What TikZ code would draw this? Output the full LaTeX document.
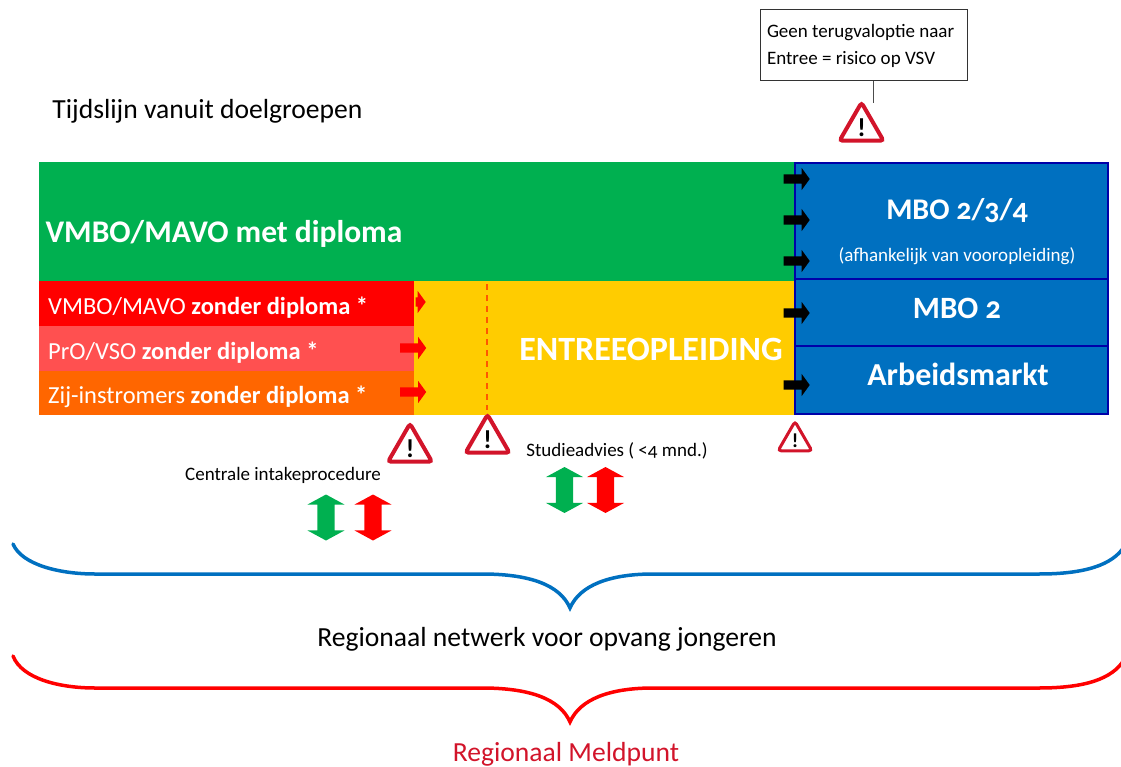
\documentclass[tikz,border=0pt]{standalone}
\usepackage{fontspec}
\setmainfont[Numbers=OldStyle]{Carlito}
\usetikzlibrary{shapes.geometric,shapes.arrows}
\definecolor{vmbogreen}{HTML}{00B050}
\definecolor{zonderred}{HTML}{FF0000}
\definecolor{zonderpink}{HTML}{FF5050}
\definecolor{zonderorange}{HTML}{FF6600}
\definecolor{entreeyellow}{HTML}{FFCC00}
\definecolor{mboblue}{HTML}{0070C0}
\definecolor{mboedge}{HTML}{0000A8}
\definecolor{warnred}{HTML}{D2142A}
\tikzset{
  block/.style={anchor=north west,inner sep=0pt,outer sep=0pt,text=white},
  mbo/.style={block,draw=mboedge,line width=2pt,fill=mboblue,align=center},
  warn/.style={regular polygon,regular polygon sides=3,draw=warnred,fill=white,line width=4pt,
    rounded corners=3pt,inner sep=0pt,text=black,font=\fontsize{26}{26}\selectfont\bfseries},
  flow/.style={single arrow,minimum width=22pt,minimum height=26pt,inner sep=0pt,
    text height=9pt,text depth=0pt,text width=0pt,
    single arrow head extend=6.5pt,single arrow tip angle=108,single arrow head indent=0pt},
  both/.style={double arrow,shape border rotate=90,minimum width=37pt,minimum height=46pt,inner sep=0pt,
    text height=0pt,text depth=0pt,text width=17pt,
    double arrow head extend=10pt,double arrow tip angle=123,double arrow head indent=0pt},
  swoop/.style={line width=3.5pt,line cap=round,line join=miter}
}
\begin{document}
\begin{tikzpicture}[x=1pt,y=-1pt]
  \useasboundingbox (0,0) rectangle (1121,767);
  \node[font=\fontsize{27.6}{27.6}\selectfont] (title) at (207.5,111) {Tijdslijn vanuit doelgroepen};
  % blocks
  \node[block,fill=vmbogreen,minimum width=756pt,minimum height=119pt] (green) at (39,162) {};
  \node[block,fill=entreeyellow,minimum width=381pt,minimum height=134pt] (yellow) at (414,281) {};
  \node[block,fill=zonderred,minimum width=375pt,minimum height=45pt] (red) at (39,281) {};
  \node[block,fill=zonderpink,minimum width=375pt,minimum height=45pt] (pink) at (39,326) {};
  \node[block,fill=zonderorange,minimum width=375pt,minimum height=44pt] (orange) at (39,371) {};
  \node[mbo,minimum width=313pt,minimum height=116pt] (mboall) at (795,163) {};
  \node[mbo,minimum width=313pt,minimum height=67pt] (mbotwo) at (795,279) {};
  \node[mbo,minimum width=313pt,minimum height=68pt] (market) at (795,346) {};
  % texts
  \node[text=white,font=\fontsize{31.5}{31.5}\selectfont\bfseries] (greentext) at (224,234) {VMBO/MAVO met diploma};
  \node[text=white,font=\fontsize{24.5}{24.5}\selectfont,anchor=west,inner sep=0pt] (redtext) at (48,308) {VMBO/MAVO \textbf{zonder diploma *}};
  \node[text=white,font=\fontsize{24.5}{24.5}\selectfont,anchor=west,inner sep=0pt] (pinktext) at (48,353) {PrO/VSO \textbf{zonder diploma *}};
  \node[text=white,font=\fontsize{24.5}{24.5}\selectfont,anchor=west,inner sep=0pt] (orangetext) at (48,397) {Zij-instromers \textbf{zonder diploma *}};
  \node[text=white,font=\fontsize{34}{34}\selectfont\bfseries] (entreetext) at (651,349) {ENTREEOPLEIDING};
  \node[text=white,font=\fontsize{30}{30}\selectfont\bfseries] (mboalltext) at (957,211) {MBO 2/3/4};
  \node[text=white,font=\fontsize{19}{19}\selectfont] (vooropl) at (957,256) {(afhankelijk van vooropleiding)};
  \node[text=white,font=\fontsize{31}{31}\selectfont\bfseries] (mbotwotext) at (957,308) {MBO 2};
  \node[text=white,font=\fontsize{32}{32}\selectfont\bfseries] (markettext) at (958,374) {Arbeidsmarkt};
  \node[font=\fontsize{19}{19}\selectfont] (intake) at (283,475) {Centrale intakeprocedure};
  \node[font=\fontsize{19}{19}\selectfont] (advies) at (617,451) {Studieadvies ( <4 mnd.)};
  \node[font=\fontsize{27.6}{27.6}\selectfont] (netwerk) at (547,639) {Regionaal netwerk voor opvang jongeren};
  \node[text=warnred,font=\fontsize{27.6}{27.6}\selectfont] (meldpunt) at (566,754) {Regionaal Meldpunt};
  \node[draw=black!80,line width=1pt,minimum height=71pt,text width=193pt,align=flush left,
    font=\fontsize{19}{27}\selectfont,inner xsep=7pt,inner ysep=0pt] (geen) at (863.5,45.5) {Geen terugvaloptie naar\\Entree = risico op VSV};
  % flow arrows
  \node[flow,fill=black] (a1) at (795,179) {};
  \node[flow,fill=black] (a2) at (795,220) {};
  \node[flow,fill=black] (a3) at (795,261) {};
  \node[flow,fill=black] (a4) at (795,313) {};
  \node[flow,fill=black] (a5) at (795,385) {};
  \node[flow,fill=zonderred,minimum height=10pt] (a6) at (419,302) {};
  \node[flow,fill=zonderred] (a7) at (411.5,348) {};
  \node[flow,fill=zonderred] (a8) at (411.5,392) {};
  \node[both,fill=vmbogreen] (up1) at (326,517.5) {};
  \node[both,fill=zonderred] (up2) at (373,517.5) {};
  \node[both,fill=vmbogreen] (up3) at (564.5,490) {};
  \node[both,fill=zonderred] (up4) at (605.5,490) {};
  % warnings
  \coordinate (dashtop) at (486.5,284);
  \coordinate (dashend) at (486.5,410);
  \coordinate (geenend) at (873,103);
  \draw[draw=black!70,line width=1pt] (geen.south -| geenend) -- (geenend);
  \draw[draw=zonderorange!85!red,line width=2pt,dash pattern=on 6pt off 5pt] (dashtop) -- (dashend);
  \node[warn,minimum size=48pt] (w1) at (410,449) {!};
  \node[warn,minimum size=45pt] (w2) at (487.5,440) {!};
  \node[warn,minimum size=35pt,line width=3pt,font=\fontsize{20}{20}\selectfont\bfseries] (w3) at (795,441) {!};
  \node[warn,minimum size=49pt] (w4) at (861.5,128) {!};
  % braces
  \draw[swoop,draw=mboblue] (13,544) .. controls (22,565) and (60,574) .. (95,574)
    -- (482,574) .. controls (530,574) and (560,585) .. (570,608)
    .. controls (580,585) and (610,574) .. (653,574)
    -- (1039,574) .. controls (1085,574) and (1112,565) .. (1124,547);
  \draw[swoop,draw=zonderred] (13,656) .. controls (22,679) and (60,688) .. (95,688)
    -- (482,688) .. controls (530,688) and (560,699) .. (570,722)
    .. controls (580,699) and (610,688) .. (653,688)
    -- (1039,688) .. controls (1085,688) and (1112,679) .. (1124,660);
\end{tikzpicture}
\end{document}
